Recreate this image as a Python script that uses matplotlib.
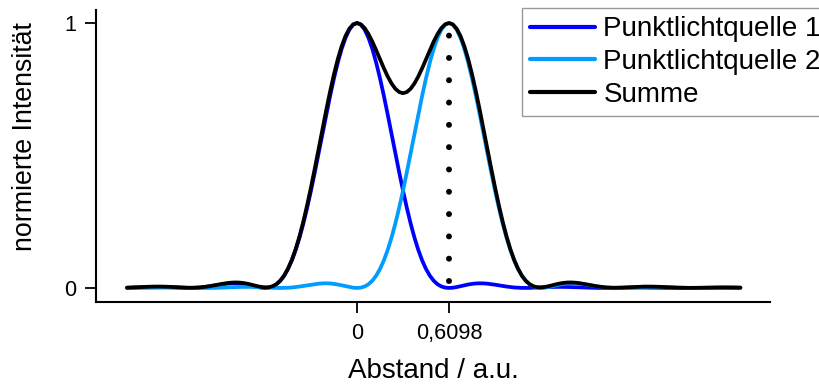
import numpy as np
import matplotlib
matplotlib.use('Agg')
import matplotlib.pyplot as plt

plt.rcParams['font.family'] = ['Liberation Sans', 'DejaVu Sans']

# sample positions (a.u.), 161 points, step 0.6098/24
x = np.linspace(-1.5245, 2.5408, 161)

# Punktlichtquelle 1 (centered at 0)
src1 = np.array([
    0.0009, 0.0014, 0.0020, 0.0026, 0.0032, 0.0037, 0.0040, 0.0041, 0.0041, 0.0038,
    0.0034, 0.0028, 0.0020, 0.0013, 0.0007, 0.0002, 0.0000, 0.0002, 0.0008, 0.0018,
    0.0034, 0.0053, 0.0075, 0.0099, 0.0123, 0.0144, 0.0161, 0.0172, 0.0175, 0.0169,
    0.0153, 0.0130, 0.0099, 0.0066, 0.0034, 0.0010, 0.0000, 0.0013, 0.0057, 0.0141,
    0.0274, 0.0463, 0.0717, 0.1038, 0.1431, 0.1895, 0.2428, 0.3025, 0.3675, 0.4369,
    0.5091, 0.5825, 0.6553, 0.7256, 0.7914, 0.8509, 0.9023, 0.9440, 0.9748, 0.9936,
    1.0000, 0.9936, 0.9748, 0.9440, 0.9023, 0.8509, 0.7914, 0.7256, 0.6553, 0.5825,
    0.5091, 0.4369, 0.3675, 0.3025, 0.2428, 0.1895, 0.1431, 0.1038, 0.0717, 0.0463,
    0.0274, 0.0141, 0.0057, 0.0013, 0.0000, 0.0010, 0.0034, 0.0066, 0.0099, 0.0130,
    0.0153, 0.0169, 0.0175, 0.0172, 0.0161, 0.0144, 0.0123, 0.0099, 0.0075, 0.0053,
    0.0034, 0.0018, 0.0008, 0.0002, 0.0000, 0.0002, 0.0007, 0.0013, 0.0020, 0.0028,
    0.0034, 0.0038, 0.0041, 0.0041, 0.0040, 0.0037, 0.0032, 0.0026, 0.0020, 0.0014,
    0.0009, 0.0005, 0.0002, 0.0000, 0.0000, 0.0001, 0.0003, 0.0005, 0.0008, 0.0011,
    0.0013, 0.0015, 0.0016, 0.0016, 0.0015, 0.0014, 0.0012, 0.0010, 0.0008, 0.0005,
    0.0003, 0.0002, 0.0001, 0.0000, 0.0000, 0.0001, 0.0002, 0.0003, 0.0004, 0.0005,
    0.0006, 0.0007, 0.0008, 0.0008, 0.0007, 0.0007, 0.0006, 0.0005, 0.0004, 0.0002,
    0.0001,
])

# Punktlichtquelle 2 (centered at 0.6098)
src2 = np.array([
    0.0000, 0.0000, 0.0001, 0.0002, 0.0003, 0.0005, 0.0008, 0.0010, 0.0012, 0.0014,
    0.0015, 0.0016, 0.0016, 0.0015, 0.0013, 0.0011, 0.0008, 0.0005, 0.0003, 0.0001,
    0.0000, 0.0000, 0.0002, 0.0005,
    0.0009, 0.0014, 0.0020, 0.0026, 0.0032, 0.0037, 0.0040, 0.0041, 0.0041, 0.0038,
    0.0034, 0.0028, 0.0020, 0.0013, 0.0007, 0.0002, 0.0000, 0.0002, 0.0008, 0.0018,
    0.0034, 0.0053, 0.0075, 0.0099, 0.0123, 0.0144, 0.0161, 0.0172, 0.0175, 0.0169,
    0.0153, 0.0130, 0.0099, 0.0066, 0.0034, 0.0010, 0.0000, 0.0013, 0.0057, 0.0141,
    0.0274, 0.0463, 0.0717, 0.1038, 0.1431, 0.1895, 0.2428, 0.3025, 0.3675, 0.4369,
    0.5091, 0.5825, 0.6553, 0.7256, 0.7914, 0.8509, 0.9023, 0.9440, 0.9748, 0.9936,
    1.0000, 0.9936, 0.9748, 0.9440, 0.9023, 0.8509, 0.7914, 0.7256, 0.6553, 0.5825,
    0.5091, 0.4369, 0.3675, 0.3025, 0.2428, 0.1895, 0.1431, 0.1038, 0.0717, 0.0463,
    0.0274, 0.0141, 0.0057, 0.0013, 0.0000, 0.0010, 0.0034, 0.0066, 0.0099, 0.0130,
    0.0153, 0.0169, 0.0175, 0.0172, 0.0161, 0.0144, 0.0123, 0.0099, 0.0075, 0.0053,
    0.0034, 0.0018, 0.0008, 0.0002, 0.0000, 0.0002, 0.0007, 0.0013, 0.0020, 0.0028,
    0.0034, 0.0038, 0.0041, 0.0041, 0.0040, 0.0037, 0.0032, 0.0026, 0.0020, 0.0014,
    0.0009, 0.0005, 0.0002, 0.0000, 0.0000, 0.0001, 0.0003, 0.0005, 0.0008, 0.0011,
    0.0013, 0.0015, 0.0016, 0.0016, 0.0015, 0.0014, 0.0012,
])

total = src1 + src2

SEP = 0.6098
xticks = [0, SEP]
xticklabels = ['0', '0,6098']
yticks = [0, 1]
yticklabels = ['0', '1']

BLUE = '#0000FF'
LIGHT = '#009CFF'

fig = plt.figure(figsize=(8.19, 3.87), dpi=100)
ax = fig.add_axes([96 / 819, 1 - 302 / 387, 674 / 819, 292 / 387])

lw = 2.7
ax.plot(x, src1, color=BLUE, lw=lw, solid_capstyle='round', label='Punktlichtquelle 1')
ax.plot(x, src2, color=LIGHT, lw=lw, solid_capstyle='round', label='Punktlichtquelle 2')
ax.plot(x, total, color='black', lw=lw, solid_capstyle='round', label='Summe')

# dotted marker line at the separation
dlw = 4.3
ax.plot([SEP, SEP], [0.026, 0.955], color='black', lw=dlw,
        linestyle=(0, (0.01 / dlw, 16.05 / dlw)), dash_capstyle='round')

ax.set_xlim(-1.7296, 2.737)
ax.set_ylim(-0.053, 1.049)
ax.set_xticks(xticks)
ax.set_xticklabels(xticklabels)
ax.set_yticks(yticks)
ax.set_yticklabels(yticklabels)
ax.tick_params(direction='out', length=8, width=1.3, labelsize=15.7, pad=6)
ax.tick_params(axis='x', pad=7)

for side in ('top', 'right'):
    ax.spines[side].set_visible(False)
for side in ('left', 'bottom'):
    ax.spines[side].set_linewidth(1.5)

ax.set_xlabel('Abstand / a.u.', fontsize=20, va='center')
ax.xaxis.set_label_coords(0.5, -0.236)
ax.set_ylabel('normierte Intensität', fontsize=19.3, va='center')
ax.yaxis.set_label_coords(-0.105, 0.565)

leg = ax.legend(loc='upper left', bbox_to_anchor=(522 / 819, 1 - 8 / 387),
                bbox_transform=fig.transFigure, fontsize=20, frameon=True,
                fancybox=False, edgecolor='#808080', handlelength=2.34,
                handletextpad=0.29, labelspacing=0.24, borderpad=0.3,
                borderaxespad=0)
leg.get_frame().set_linewidth(1.0)
for h in leg.get_lines():
    h.set_linewidth(3.0)

fig.savefig('out.png', dpi=100)
